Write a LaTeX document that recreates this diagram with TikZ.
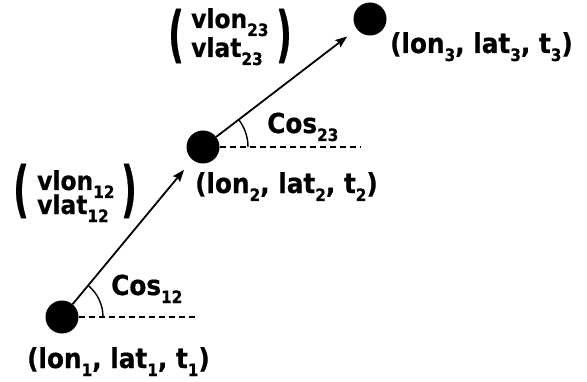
\documentclass[tikz,border=0pt]{standalone}
\usepackage{fontspec}
\setmainfont{DejaVu Sans}[FakeStretch=0.9, BoldFeatures={FakeBold=0.6}]
\usetikzlibrary{arrows.meta}
\newcommand\subs[1]{\raisebox{-8pt}{\fontsize{17}{17}\selectfont #1}}
\newcommand\bigparen[1]{\scalebox{1}[1.6]{\fontsize{38}{38}\selectfont #1}}
\begin{document}
\begin{tikzpicture}[x=1pt,y=1pt,
  font=\bfseries\fontsize{27.5}{30}\selectfont,
  dot/.style={circle, fill=black, minimum size=33pt, inner sep=0pt},
  lbl/.style={anchor=base west, inner sep=0pt},
  mat/.style={lbl, font=\bfseries\fontsize{26}{28}\selectfont},
  paren/.style={inner sep=0pt},
  arr/.style={line width=1.8pt, -{Stealth[length=12pt,width=9pt,inset=2pt]}},
  hline/.style={line width=1.4pt, dash pattern=on 6.5pt off 3.5pt},
  anglearc/.style={line width=1.4pt}]
\useasboundingbox (0,0) rectangle (587,381);
% points
\node[dot] (p1) at (62,64) {};
\node[dot] (p2) at (203,234) {};
\node[dot] (p3) at (370,362) {};
% connectors
\draw[arr, shorten >=13pt] (p1) -- (p2);
\draw[arr, shorten >=12pt] (p2) -- (p3);
% horizontal references
\coordinate (h1) at (198,64);
\coordinate (h2) at (360,234);
\draw[hline] (p1.east) -- (h1);
\draw[hline] (p2.east) -- (h2);
% angle arcs
\draw[anglearc] ([shift={(0:41)}]p1.center) arc[start angle=0, end angle=50.3, radius=41];
\draw[anglearc] ([shift={(0:45)}]p2.center) arc[start angle=0, end angle=37.5, radius=45];
% labels
\node[lbl] (l1) at (27,13) {(lon\subs{1}, lat\subs{1}, t\subs{1})};
\node[lbl] (l2) at (195,188) {(lon\subs{2}, lat\subs{2}, t\subs{2})};
\node[lbl] (l3) at (390,328) {(lon\subs{3}, lat\subs{3}, t\subs{3})};
\node[lbl] (c12) at (111,86) {Cos\subs{12}};
\node[lbl] (c23) at (267,248) {Cos\subs{23}};
% velocity vectors
\node[mat] (v23a) at (191,353) {vlon\subs{23}};
\node[mat] (v23b) at (191,324) {vlat\subs{23}};
\node[paren, anchor=west] (o23) at (168,345) {\bigparen{(}};
\node[paren, anchor=east] (c23p) at (292,345) {\bigparen{)}};
\node[mat] (v12a) at (37,191) {vlon\subs{12}};
\node[mat] (v12b) at (37,167) {vlat\subs{12}};
\node[paren, anchor=west] (o12) at (13,190) {\bigparen{(}};
\node[paren, anchor=east] (c12p) at (137,190) {\bigparen{)}};
\end{tikzpicture}
\end{document}
